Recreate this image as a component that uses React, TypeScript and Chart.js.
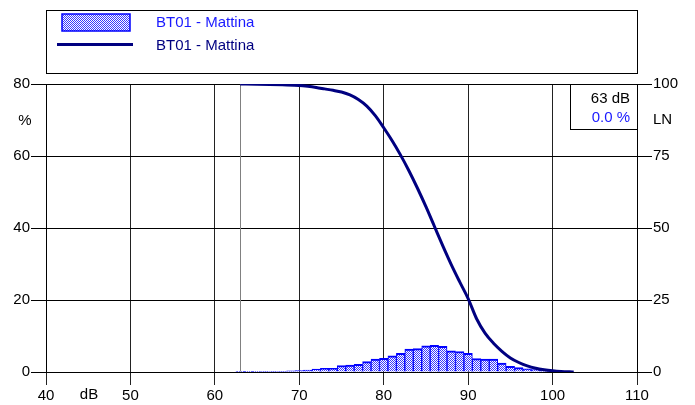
import React, { useEffect, useRef } from "react";
import { Chart, registerables } from "chart.js";

Chart.register(...registerables);

// Histogram (percentage per 1 dB class)
const histDb = [63, 64, 65, 66, 67, 68, 69, 70, 71, 72, 73, 74, 75, 76, 77, 78, 79, 80, 81, 82, 83, 84, 85, 86, 87, 88, 89, 90, 91, 92, 93, 94, 95, 96, 97, 98, 99, 100, 101, 102];
const histPct = [0.05, 0.05, 0.05, 0.1, 0.1, 0.2, 0.3, 0.4, 0.5, 0.8, 1.0, 1.0, 1.8, 1.9, 2.1, 2.9, 3.6, 3.8, 4.5, 5.2, 6.4, 6.5, 7.3, 7.4, 7.1, 5.9, 5.7, 5.2, 3.7, 3.6, 3.6, 2.5, 1.6, 1.2, 0.9, 0.7, 0.5, 0.3, 0.2, 0.1];

// Cumulative LN curve (right axis)
const curveDb = [63, 65, 68, 70, 71, 72, 73, 74, 75, 76, 77, 78, 79, 80, 81, 82, 83, 84, 85, 86, 87, 88, 89, 90, 91, 92, 93, 94, 95, 96, 97, 98, 99, 100, 101, 102, 102.5];
const curveLn = [100, 99.9, 99.7, 99.5, 99.2, 98.8, 98.3, 97.8, 97.2, 96.2, 94.6, 92.3, 89.0, 84.8, 80.3, 75.3, 69.8, 63.8, 57.4, 50.6, 43.8, 37.3, 31.3, 25.5, 18.5, 13.5, 10.0, 7.2, 4.9, 3.3, 2.1, 1.3, 0.8, 0.45, 0.2, 0.05, 0];

const seriesName = "BT01 - Mattina";
const markerDb = 63;
const markerLabel = "63 dB";
const markerPct = "0.0 %";
const leftAxisTitle = "%";
const rightAxisTitle = "LN";
const xAxisTitle = "dB";

const FONT = "15px 'Liberation Sans', Arial, sans-serif";
const BLUE = "#1a1aff";
const NAVY = "#000080";

function makePattern(): CanvasPattern | string {
  const c = document.createElement("canvas");
  c.width = 2;
  c.height = 2;
  const g = c.getContext("2d");
  if (!g) return "#8080ff";
  g.fillStyle = "#ffffff";
  g.fillRect(0, 0, 2, 2);
  g.fillStyle = "#3a3aff";
  g.fillRect(0, 0, 1, 1);
  g.fillRect(1, 1, 1, 1);
  const p = g.createPattern(c, "repeat");
  return p || "#8080ff";
}

export default function App() {
  const ref = useRef<HTMLCanvasElement | null>(null);

  useEffect(() => {
    if (!ref.current) return;
    const pattern = makePattern();

    const overlay = {
      id: "overlay",
      beforeDatasetsDraw(chart: any) {
        const { ctx, chartArea, scales } = chart;
        const x = Math.round(scales.x.getPixelForValue(markerDb)) + 0.5;
        ctx.save();
        ctx.strokeStyle = "#808080";
        ctx.lineWidth = 1;
        ctx.beginPath();
        ctx.moveTo(x, chartArea.top);
        ctx.lineTo(x, chartArea.bottom);
        ctx.stroke();
        ctx.restore();
      },
      afterDraw(chart: any) {
        const { ctx, chartArea } = chart;
        ctx.save();
        // legend box
        ctx.strokeStyle = "#000";
        ctx.lineWidth = 1;
        ctx.strokeRect(46.5, 10.5, chartArea.right - 46, 63);
        // legend bar symbol
        ctx.fillStyle = pattern as any;
        ctx.fillRect(62, 14, 68, 17);
        ctx.strokeStyle = "#0000ff";
        ctx.lineWidth = 1.5;
        ctx.strokeRect(62, 14, 68, 17);
        // legend line symbol
        ctx.strokeStyle = NAVY;
        ctx.lineWidth = 3;
        ctx.beginPath();
        ctx.moveTo(57, 44.5);
        ctx.lineTo(133, 44.5);
        ctx.stroke();
        ctx.font = FONT;
        ctx.textBaseline = "alphabetic";
        ctx.textAlign = "left";
        ctx.fillStyle = BLUE;
        ctx.fillText(seriesName, 156, 26.5);
        ctx.fillStyle = NAVY;
        ctx.fillText(seriesName, 156, 49.5);

        // marker info box
        const bx = 570.5;
        const by = chartArea.top + 0.5;
        const bw = chartArea.right - 570;
        const bh = 45;
        ctx.fillStyle = "#fff";
        ctx.fillRect(bx, by, bw, bh);
        ctx.strokeStyle = "#000";
        ctx.lineWidth = 1;
        ctx.strokeRect(bx, by, bw, bh);
        ctx.textAlign = "right";
        ctx.fillStyle = "#000";
        ctx.fillText(markerLabel, 630, by + 18);
        ctx.fillStyle = BLUE;
        ctx.fillText(markerPct, 630, by + 37);

        // axis titles
        ctx.fillStyle = "#000";
        ctx.textAlign = "center";
        ctx.textBaseline = "middle";
        ctx.fillText(leftAxisTitle, 25, 121);
        ctx.textAlign = "left";
        ctx.fillText(rightAxisTitle, 653, 120);
        ctx.textAlign = "center";
        ctx.fillText(xAxisTitle, 89, 395);
        ctx.restore();
      },
    };

    const font = { family: "'Liberation Sans', Arial, sans-serif", size: 15 };

    const chart = new Chart(ref.current, {
      type: "bar",
      data: {
        datasets: [
          {
            type: "line",
            label: seriesName,
            data: curveDb.map((d, i) => ({ x: d, y: curveLn[i] })),
            borderColor: NAVY,
            borderWidth: 3,
            pointRadius: 0,
            cubicInterpolationMode: "monotone",
            fill: false,
            yAxisID: "y2",
            order: 0,
          } as any,
          {
            type: "bar",
            label: seriesName,
            data: histDb.map((d, i) => ({ x: d, y: histPct[i] })),
            backgroundColor: pattern as any,
            borderColor: "#0000ff",
            borderWidth: { top: 2, left: 1, right: 1, bottom: 0 },
            borderSkipped: false,
            barPercentage: 1,
            categoryPercentage: 1,
            yAxisID: "y",
            order: 1,
          } as any,
        ],
      },
      options: {
        responsive: false,
        animation: false,
        layout: { padding: { top: 84, left: 0, right: 0, bottom: 0 } },
        plugins: { legend: { display: false }, tooltip: { enabled: false } },
        scales: {
          x: {
            type: "linear",
            min: 40,
            max: 110,
            offset: false,
            ticks: { stepSize: 10, color: "#000", font, padding: 2, maxRotation: 0 },
            grid: { color: "#222", lineWidth: 1, tickLength: 13, drawTicks: true, offset: false },
            border: { display: true, color: "#000" },
            afterFit: (s: any) => {
              s.height = 33;
            },
          },
          y: {
            type: "linear",
            position: "left",
            min: 0,
            max: 80,
            ticks: { stepSize: 20, color: "#000", font, padding: 1 },
            grid: { color: "#000", lineWidth: 1, tickLength: 15 },
            border: { display: true, color: "#000" },
            afterFit: (s: any) => {
              s.width = 46;
            },
          },
          y2: {
            type: "linear",
            position: "right",
            min: 0,
            max: 100,
            ticks: { stepSize: 25, color: "#000", font, padding: 1 },
            grid: { drawOnChartArea: false, color: "#000", tickLength: 15 },
            border: { display: true, color: "#000" },
            afterFit: (s: any) => {
              s.width = 58;
            },
          },
        },
      } as any,
      plugins: [overlay],
    });

    return () => chart.destroy();
  }, []);

  return (
    <div style={{ position: "fixed", left: 0, top: 0, width: 695, height: 405, background: "#fff" }}>
      <canvas ref={ref} width={695} height={405} />
    </div>
  );
}
